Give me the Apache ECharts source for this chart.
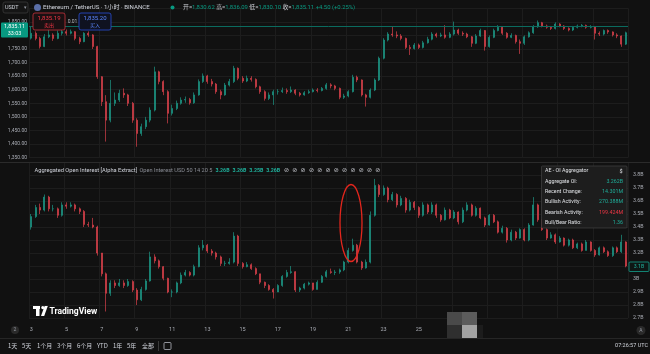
<!DOCTYPE html>
<html>
<head>
<meta charset="utf-8">
<title>ETHUSDT 1h · Aggregated Open Interest</title>
<script src="https://cdn.jsdelivr.net/npm/echarts@6.0.0/dist/echarts.min.js"></script>
<style>
  html, body { margin: 0; padding: 0; background: #111111; }
  #chart { width: 650px; height: 354px; }
</style>
</head>
<body>
<div id="chart"></div>
<script>
// 6h buckets, index 0 = day 3 00:00
const dayStart = 3
const dayLabels = [3, 5, 7, 9, 11, 13, 15, 17, 19, 21, 23, 25]

// ETH/USDT price (top pane)
const priceOpen0 = 1790
const priceClose = [
  1808, 1789, 1759, 1795, 1802, 1789, 1808, 1814, 1808, 1814,
  1789, 1777, 1808, 1802, 1759, 1648, 1556, 1488, 1550, 1562,
  1587, 1581, 1550, 1488, 1439, 1464, 1488, 1525, 1666, 1630,
  1593, 1513, 1531, 1550, 1562, 1564, 1552, 1581, 1630, 1651,
  1630, 1621, 1593, 1581, 1617, 1630, 1679, 1642, 1632, 1642,
  1638, 1611, 1593, 1568, 1581, 1593, 1593, 1597, 1593, 1599,
  1587, 1581, 1589, 1593, 1599, 1597, 1605, 1618, 1614, 1605,
  1572, 1577, 1593, 1646, 1636, 1581, 1572, 1599, 1636, 1716,
  1783, 1805, 1802, 1798, 1789, 1756, 1752, 1765, 1756, 1773,
  1786, 1805, 1798, 1802, 1793, 1805, 1820, 1808, 1805, 1795,
  1771, 1798, 1818, 1759, 1793, 1818, 1830, 1808, 1793, 1800,
  1777, 1771, 1795, 1810, 1832, 1847, 1835, 1830, 1826, 1842,
  1835, 1826, 1820, 1830, 1835, 1837, 1830, 1832, 1808, 1805,
  1818, 1813, 1802, 1798, 1768, 1810
]
const priceHigh = [
  1832, 1815, 1795, 1805, 1820, 1808, 1818, 1825, 1822, 1822,
  1816, 1795, 1812, 1815, 1805, 1762, 1650, 1580, 1636, 1590,
  1600, 1605, 1585, 1555, 1495, 1475, 1500, 1535, 1685, 1670,
  1635, 1598, 1545, 1560, 1572, 1575, 1570, 1590, 1638, 1660,
  1655, 1640, 1625, 1600, 1625, 1640, 1688, 1682, 1650, 1652,
  1650, 1642, 1615, 1598, 1590, 1600, 1602, 1608, 1605, 1612,
  1602, 1592, 1595, 1600, 1605, 1606, 1610, 1625, 1624, 1618,
  1608, 1585, 1598, 1655, 1652, 1638, 1585, 1605, 1642, 1722,
  1790, 1812, 1832, 1815, 1805, 1792, 1765, 1772, 1770, 1780,
  1795, 1812, 1810, 1810, 1838, 1812, 1851, 1825, 1815, 1810,
  1798, 1805, 1825, 1820, 1800, 1825, 1838, 1832, 1812, 1808,
  1803, 1785, 1800, 1815, 1838, 1855, 1850, 1840, 1835, 1848,
  1845, 1838, 1830, 1835, 1840, 1842, 1840, 1838, 1835, 1815,
  1822, 1822, 1815, 1808, 1800, 1814
]
const priceLow = [
  1785, 1782, 1752, 1757, 1790, 1780, 1786, 1800, 1800, 1804,
  1782, 1768, 1775, 1795, 1750, 1640, 1540, 1409, 1480, 1540,
  1555, 1570, 1540, 1478, 1390, 1430, 1455, 1480, 1520, 1620,
  1580, 1476, 1505, 1525, 1545, 1552, 1545, 1548, 1578, 1625,
  1622, 1612, 1585, 1565, 1578, 1612, 1625, 1635, 1625, 1628,
  1630, 1605, 1585, 1560, 1562, 1544, 1582, 1588, 1585, 1588,
  1580, 1575, 1578, 1585, 1590, 1590, 1594, 1600, 1605, 1598,
  1565, 1566, 1572, 1590, 1628, 1575, 1538, 1568, 1595, 1632,
  1712, 1778, 1795, 1790, 1782, 1750, 1728, 1748, 1750, 1752,
  1770, 1782, 1792, 1794, 1788, 1790, 1800, 1802, 1798, 1790,
  1758, 1768, 1795, 1744, 1755, 1790, 1815, 1802, 1788, 1790,
  1770, 1732, 1765, 1792, 1806, 1828, 1830, 1825, 1820, 1822,
  1830, 1820, 1815, 1816, 1826, 1830, 1825, 1826, 1785, 1798,
  1800, 1806, 1796, 1790, 1758, 1765
]
const lastPrice = 1835.11

// Aggregated open interest, billions USD (bottom pane)
const oiOpen0 = 3.40
const oiClose = [
  3.48, 3.55, 3.53, 3.63, 3.54, 3.54, 3.49, 3.57, 3.56, 3.57,
  3.54, 3.52, 3.42, 3.415, 3.40, 3.20, 3.04, 2.89, 2.97, 2.95,
  2.97, 2.95, 2.98, 2.915, 2.84, 2.92, 2.985, 3.17, 3.14, 3.095,
  3.005, 2.90, 2.90, 2.97, 3.03, 3.05, 3.03, 3.095, 3.24, 3.26,
  3.215, 3.20, 3.17, 3.12, 3.12, 3.13, 3.33, 3.12, 3.095, 3.11,
  3.08, 3.04, 2.975, 2.95, 2.92, 2.90, 2.95, 3.02, 3.05, 3.056,
  2.915, 2.93, 2.96, 2.97, 2.92, 2.975, 3.02, 3.056, 3.05, 3.054,
  3.07, 3.13, 3.22, 3.26, 3.13, 3.085, 3.13, 3.49, 3.72, 3.65,
  3.70, 3.61, 3.65, 3.57, 3.62, 3.53, 3.59, 3.55, 3.49, 3.57,
  3.515, 3.57, 3.49, 3.455, 3.53, 3.47, 3.515, 3.44, 3.53, 3.57,
  3.49, 3.545, 3.47, 3.415, 3.49, 3.44, 3.36, 3.39, 3.30, 3.36,
  3.315, 3.38, 3.30, 3.415, 3.57, 3.455, 3.38, 3.315, 3.34, 3.285,
  3.315, 3.26, 3.30, 3.24, 3.27, 3.22, 3.285, 3.22, 3.185, 3.24,
  3.21, 3.18, 3.24, 3.21, 3.285, 3.10
]
const oiHigh = [
  3.50, 3.57, 3.58, 3.65, 3.64, 3.57, 3.55, 3.59, 3.59, 3.59,
  3.58, 3.55, 3.53, 3.44, 3.47, 3.41, 3.20, 3.05, 2.99, 2.99,
  3.00, 2.99, 3.00, 2.99, 2.93, 2.94, 3.00, 3.21, 3.19, 3.15,
  3.10, 3.01, 2.92, 2.98, 3.05, 3.07, 3.06, 3.11, 3.26, 3.30,
  3.27, 3.23, 3.21, 3.18, 3.14, 3.16, 3.36, 3.34, 3.13, 3.13,
  3.12, 3.09, 3.04, 2.98, 2.96, 2.93, 2.96, 3.03, 3.07, 3.10,
  3.06, 2.94, 2.97, 2.98, 2.97, 2.99, 3.03, 3.07, 3.08, 3.07,
  3.08, 3.14, 3.24, 3.31, 3.27, 3.14, 3.15, 3.52, 3.77, 3.73,
  3.72, 3.71, 3.67, 3.66, 3.64, 3.63, 3.61, 3.60, 3.56, 3.59,
  3.58, 3.59, 3.58, 3.50, 3.55, 3.54, 3.53, 3.52, 3.55, 3.59,
  3.58, 3.56, 3.55, 3.48, 3.50, 3.50, 3.45, 3.41, 3.40, 3.38,
  3.37, 3.39, 3.39, 3.43, 3.63, 3.58, 3.46, 3.39, 3.36, 3.35,
  3.33, 3.32, 3.31, 3.31, 3.28, 3.28, 3.30, 3.29, 3.23, 3.25,
  3.25, 3.22, 3.25, 3.25, 3.34, 3.29
]
const oiLow = [
  3.38, 3.47, 3.50, 3.52, 3.52, 3.52, 3.47, 3.48, 3.54, 3.55,
  3.52, 3.50, 3.40, 3.40, 3.39, 3.18, 3.02, 2.75, 2.87, 2.93,
  2.94, 2.93, 2.94, 2.90, 2.80, 2.83, 2.91, 2.98, 3.12, 3.08,
  2.99, 2.89, 2.86, 2.89, 2.96, 3.02, 3.02, 3.02, 3.09, 3.22,
  3.20, 3.18, 3.15, 3.10, 3.10, 3.11, 3.12, 3.10, 3.08, 3.09,
  3.07, 3.03, 2.96, 2.93, 2.91, 2.85, 2.90, 2.94, 3.01, 3.04,
  2.90, 2.90, 2.92, 2.95, 2.91, 2.92, 2.97, 3.01, 3.04, 3.03,
  3.04, 3.06, 3.12, 3.21, 3.12, 3.07, 3.08, 3.12, 3.48, 3.63,
  3.64, 3.59, 3.60, 3.55, 3.56, 3.51, 3.52, 3.53, 3.47, 3.48,
  3.50, 3.50, 3.47, 3.44, 3.45, 3.46, 3.46, 3.42, 3.43, 3.52,
  3.48, 3.48, 3.46, 3.40, 3.41, 3.43, 3.35, 3.35, 3.28, 3.29,
  3.30, 3.31, 3.29, 3.29, 3.41, 3.44, 3.37, 3.30, 3.31, 3.27,
  3.28, 3.25, 3.25, 3.23, 3.23, 3.21, 3.22, 3.21, 3.17, 3.18,
  3.20, 3.17, 3.17, 3.20, 3.20, 3.09
]
const oiLegendValues = ['3.26B', '3.26B', '3.25B', '3.26B']

// AE - OI Aggregator table
const tableLabels = ['Aggregate OI:', 'Recent Change:', 'Bullish Activity:', 'Bearish Activity:', 'Bull/Bear Ratio:']
const tableValues = ['3.262B', '14.301M', '270.388M', '199.424M', '1.36']

const ohlcNames = ['开', '高', '低', '收']
const ohlcValues = ['1,830.62', '1,836.09', '1,830.10', '1,835.11']
const rangeButtons = ['1天', '5天', '1个月', '3个月', '6个月', 'YTD', '1年', '5年', '全部']

const FONT = "Roboto, 'Noto Sans', 'Noto Sans CJK SC', sans-serif"
const CJK = "'Noto Sans CJK SC', Roboto, sans-serif"
const UP = '#1c9685'
const DOWN = '#d8404b'
const GRID_LINE = '#1d1d1d'
const AXIS_TEXT = '#a9acb4'

const toCandles = (open0, close, high, low) =>
  close.map((c, i) => [i === 0 ? open0 : close[i - 1], c, low[i], high[i]])

const categories = priceClose.map((_, i) => i)
const showDay = (i) => i % 4 === 0 && dayLabels.includes(dayStart + i / 4)
const gridLineAt = (i) => i % 8 === 0

const txt = (x, y, text, size, fill, extra = {}) => ({
  type: 'text', z: 100,
  style: Object.assign({
    x, y, text, fill,
    font: `${extra.weight || 'normal'} ${size}px ${extra.family || FONT}`,
    textAlign: extra.align || 'left',
    verticalAlign: 'middle'
  }, extra.style || {})
})
const box = (x, y, w, h, fill, stroke, r = 0) => ({
  type: 'rect', z: 99,
  shape: { x, y, width: w, height: h, r },
  style: { fill, stroke: stroke || null, lineWidth: 0.8 }
})
const hline = (x1, x2, y, color) => ({
  type: 'line', z: 98, shape: { x1, y1: y, x2, y2: y }, style: { stroke: color, lineWidth: 1 }
})

const graphics = []

// header row
graphics.push(box(3, 2, 25, 11, '#151515', '#3a3a3a', 2))
graphics.push(txt(5, 7.5, 'USDT', 5.5, '#d1d4dc'))
graphics.push(txt(23.5, 7.5, '▾', 5, '#9598a1'))
graphics.push({ type: 'circle', z: 99, shape: { cx: 37.5, cy: 7.5, r: 3.5 }, style: { fill: '#5b6fa8' } })
graphics.push(txt(43, 7.5, 'Ethereum / TetherUS · 1小时 · BINANCE', 6.1, '#d1d4dc'))
graphics.push({ type: 'circle', z: 99, shape: { cx: 172.5, cy: 7.5, r: 2 }, style: { fill: '#089981' } })
graphics.push({
  type: 'text', z: 100,
  style: {
    x: 183, y: 7.5, verticalAlign: 'middle',
    text: ohlcNames.map((n, k) => `{l|${n}=}{v|${ohlcValues[k]}}`).join(' ') + ' {v|+4.50 (+0.25%)}',
    font: `5.9px ${FONT}`,
    rich: {
      l: { fill: '#c8cad0', font: `5.9px ${FONT}` },
      v: { fill: '#089981', font: `5.9px ${FONT}` }
    }
  }
})

// sell / buy
graphics.push(box(33, 13, 32, 17, '#1a1012', '#c8323c', 2))
graphics.push(txt(49, 18.5, '1,835.19', 6, '#f23645', { align: 'center' }))
graphics.push(txt(49, 25, '卖出', 5, '#f23645', { align: 'center', family: CJK }))
graphics.push(txt(72.5, 21.5, '0.01', 5, '#b2b5be', { align: 'center' }))
graphics.push(box(79, 13, 32, 17, '#0f1220', '#2a4fd6', 2))
graphics.push(txt(95, 18.5, '1,835.20', 6, '#5b86ff', { align: 'center' }))
graphics.push(txt(95, 25, '买入', 5, '#5b86ff', { align: 'center', family: CJK }))

// last price tag on the left scale
graphics.push(box(1, 22.5, 27, 15, '#089981', null, 1))
graphics.push(txt(14.5, 27, '1,835.11', 5.5, '#ffffff', { align: 'center' }))
graphics.push(txt(14.5, 33.5, '33:03', 5.5, '#ffffff', { align: 'center' }))

// pane divider and bottom separators
graphics.push(hline(0, 650, 162.5, '#2b2b2b'))
graphics.push(hline(0, 650, 338.5, '#262626'))

// indicator legend
graphics.push(txt(34.5, 170.5, 'Aggregated Open Interest [Alpha Extract]', 5.7, '#d1d4dc'))
graphics.push(txt(139.5, 170.5, 'Open Interest USD 50 14 20 5', 5.6, '#8a8d95'))
oiLegendValues.forEach((v, k) => graphics.push(txt(215.5 + k * 16.9, 170.5, v, 5.3, '#1fae9a', { weight: 'bold' })))
for (let k = 0; k < 12; k++) graphics.push(txt(286.5 + k * 8.3, 170.5, '⊘', 6, '#c0c2c8', { family: "'DejaVu Sans', sans-serif", align: 'center' }))

// AE - OI Aggregator table
const tX = 541.5, tY = 166, tW = 85.5, rowH = 10.33
graphics.push(box(tX, tY, tW, rowH * 6, '#1d1d1d', '#3d3d3d', 1))
for (let k = 1; k < 6; k++) graphics.push(hline(tX, tX + tW, tY + rowH * k, '#343434'))
graphics.push(txt(545, tY + rowH * 0.5, 'AE - OI Aggregator', 5.3, '#e0e2e6'))
graphics.push(txt(622.5, tY + rowH * 0.5, '$', 5.5, '#e0e2e6', { align: 'right' }))
tableLabels.forEach((lab, k) => {
  const y = tY + rowH * (k + 1.5)
  graphics.push(txt(545, y, lab, 5.3, '#e0e2e6'))
  graphics.push(txt(623, y, tableValues[k], 5.3, k === 3 ? '#f23645' : '#1fae9a', { align: 'right' }))
})

// current OI tag on the right scale
graphics.push(box(629, 262, 20, 9.5, '#0e1715', '#14a08c', 1))
graphics.push(txt(639, 267, '3.1B', 5.3, '#1fae9a', { align: 'center' }))

// red circle drawn on the chart
graphics.push({
  type: 'ellipse', z: 101,
  shape: { cx: 351, cy: 223, rx: 11, ry: 38.5 },
  style: { fill: null, stroke: '#e3261d', lineWidth: 1.3 }
})

// TradingView watermark
graphics.push(box(33, 306, 7, 3, '#ffffff'))
graphics.push(box(36, 306, 3.5, 10, '#ffffff'))
graphics.push({ type: 'circle', z: 99, shape: { cx: 42.8, cy: 307.6, r: 1.6 }, style: { fill: '#ffffff' } })
graphics.push({ type: 'polygon', z: 99, shape: { points: [[41, 316], [44.6, 306], [47.8, 306], [44.2, 316]] }, style: { fill: '#ffffff' } })
graphics.push(txt(49.5, 311.5, 'TradingView', 8.5, '#ffffff', { weight: 'bold' }))

// small round buttons near the time scale
graphics.push({ type: 'circle', z: 99, shape: { cx: 15, cy: 330, r: 4 }, style: { fill: '#2a2a2a' } })
graphics.push(txt(15, 330, '2', 5, '#9598a1', { align: 'center' }))
graphics.push({ type: 'circle', z: 99, shape: { cx: 641, cy: 330.5, r: 4.5 }, style: { fill: '#2a2a2a' } })
graphics.push(txt(641, 330.5, 'A', 5, '#9598a1', { align: 'center' }))

// blurred patch over the time scale
graphics.push(box(447, 312, 15, 13, '#4a4a4a'))
graphics.push(box(462, 312, 15, 13, '#5c5c5c'))
graphics.push(box(447, 325, 15, 13, '#2f2f2f'))
graphics.push(box(462, 325, 15, 13, '#a3a3a3'))
graphics.push(box(477, 325, 6, 13, '#1c1c1c'))

// range buttons + clock
const btnX = [8, 22, 37, 57, 77, 97, 113, 127, 142]
rangeButtons.forEach((b, k) => graphics.push(txt(btnX[k], 346, b, 6, '#d1d4dc', { family: CJK })))
graphics.push({ type: 'line', z: 98, shape: { x1: 158.5, y1: 341, x2: 158.5, y2: 351 }, style: { stroke: '#3a3a3a' } })
graphics.push({ type: 'rect', z: 99, shape: { x: 164, y: 342.5, width: 7, height: 7, r: 1 }, style: { fill: null, stroke: '#b2b5be', lineWidth: 0.8 } })
graphics.push(txt(648, 346, '07:26:57 UTC', 5.5, '#d1d4dc', { align: 'right' }))

const chart = echarts.init(document.getElementById('chart'))
chart.setOption({
  backgroundColor: '#111111',
  animation: false,
  textStyle: { fontFamily: FONT },
  grid: [
    { left: 29, right: 22, top: 8.3, height: 149.3, outerBoundsMode: 'none' },
    { left: 29, right: 22, top: 162, height: 156, outerBoundsMode: 'none' }
  ],
  xAxis: [
    {
      type: 'category', gridIndex: 0, data: categories,
      axisLine: { show: false }, axisTick: { show: false }, axisLabel: { show: false },
      splitLine: { show: true, interval: gridLineAt, lineStyle: { color: GRID_LINE, width: 1 } }
    },
    {
      type: 'category', gridIndex: 1, data: categories,
      axisLine: { show: false }, axisTick: { show: false },
      axisLabel: {
        interval: showDay, margin: 9, color: AXIS_TEXT, fontSize: 5.5,
        formatter: (v, i) => String(dayStart + i / 4)
      },
      splitLine: { show: true, interval: gridLineAt, lineStyle: { color: GRID_LINE, width: 1 } }
    }
  ],
  yAxis: [
    {
      type: 'value', gridIndex: 0, position: 'left', min: 1350, max: 1900, interval: 50,
      axisLine: { show: false }, axisTick: { show: false },
      axisLabel: {
        margin: 2, color: AXIS_TEXT, fontSize: 5,
        formatter: v => v >= 1900 ? '' : v.toLocaleString('en-US', { minimumFractionDigits: 2 })
      },
      splitLine: { lineStyle: { color: GRID_LINE, width: 1 } }
    },
    {
      type: 'value', gridIndex: 1, position: 'right', min: 2.7, max: 3.9, interval: 0.1,
      axisLine: { show: false }, axisTick: { show: false },
      axisLabel: {
        margin: 5, color: AXIS_TEXT, fontSize: 5.3,
        formatter: v => {
          const r = Math.round(v * 10) / 10
          if (r > 3.85) return ''
          return (Number.isInteger(r) ? r.toFixed(0) : r.toFixed(1)) + 'B'
        }
      },
      splitLine: { lineStyle: { color: GRID_LINE, width: 1 } }
    }
  ],
  series: [
    {
      name: 'ETHUSDT', type: 'candlestick', xAxisIndex: 0, yAxisIndex: 0,
      data: toCandles(priceOpen0, priceClose, priceHigh, priceLow),
      barWidth: 1.5,
      itemStyle: { color: UP, color0: DOWN, borderColor: UP, borderColor0: DOWN, borderWidth: 0.7 },
      markLine: {
        silent: true, symbol: 'none', label: { show: false },
        lineStyle: { color: '#0b6b5f', type: 'solid', width: 1 },
        data: [{ yAxis: lastPrice }]
      }
    },
    {
      name: 'Aggregated OI', type: 'candlestick', xAxisIndex: 1, yAxisIndex: 1,
      data: toCandles(oiOpen0, oiClose, oiHigh, oiLow),
      barWidth: 1.5,
      itemStyle: { color: UP, color0: DOWN, borderColor: UP, borderColor0: DOWN, borderWidth: 0.7 }
    }
  ],
  graphic: graphics
})
</script>
</body>
</html>
